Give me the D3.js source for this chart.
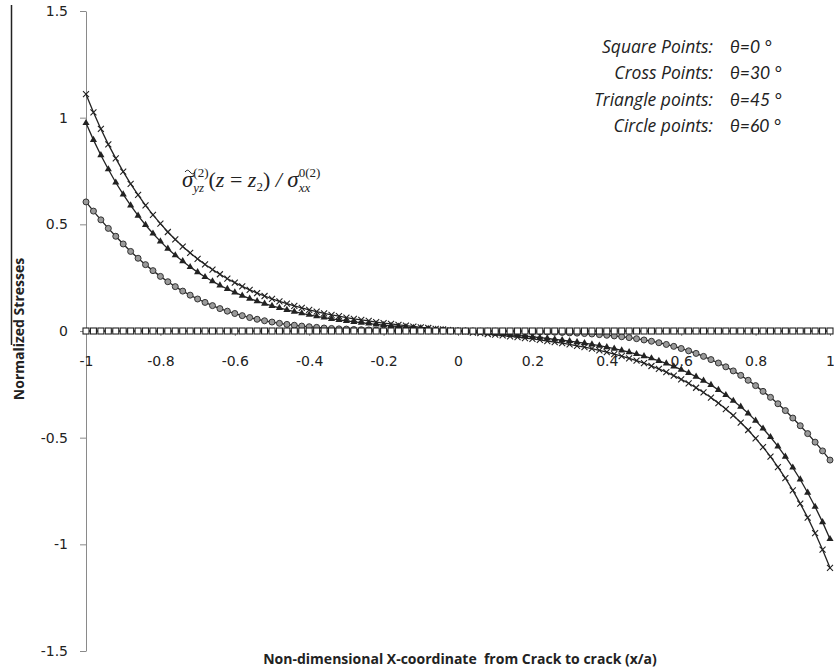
<!DOCTYPE html>
<html>
<head>
<meta charset="utf-8">
<script src="https://cdn.jsdelivr.net/npm/d3@7"></script>
<style>
  html, body { margin: 0; padding: 0; background: #fff; }
  svg { display: block; }
</style>
</head>
<body>
<svg id="chart" width="834" height="670"></svg>
<script>
'use strict';

// x/a sample positions, step 0.02
const xGrid = [
  -1, -0.98, -0.96, -0.94, -0.92, -0.9, -0.88, -0.86, -0.84, -0.82,
  -0.8, -0.78, -0.76, -0.74, -0.72, -0.7, -0.68, -0.66, -0.64, -0.62,
  -0.6, -0.58, -0.56, -0.54, -0.52, -0.5, -0.48, -0.46, -0.44, -0.42,
  -0.4, -0.38, -0.36, -0.34, -0.32, -0.3, -0.28, -0.26, -0.24, -0.22,
  -0.2, -0.18, -0.16, -0.14, -0.12, -0.1, -0.08, -0.06, -0.04, -0.02,
  0,
  0.02, 0.04, 0.06, 0.08, 0.1, 0.12, 0.14, 0.16, 0.18, 0.2,
  0.22, 0.24, 0.26, 0.28, 0.3, 0.32, 0.34, 0.36, 0.38, 0.4,
  0.42, 0.44, 0.46, 0.48, 0.5, 0.52, 0.54, 0.56, 0.58, 0.6,
  0.62, 0.64, 0.66, 0.68, 0.7, 0.72, 0.74, 0.76, 0.78, 0.8,
  0.82, 0.84, 0.86, 0.88, 0.9, 0.92, 0.94, 0.96, 0.98, 1
];

// theta = 0 (squares)
const squareVals = [
  0, 0, 0, 0, 0, 0, 0, 0, 0, 0,
  0, 0, 0, 0, 0, 0, 0, 0, 0, 0,
  0, 0, 0, 0, 0, 0, 0, 0, 0, 0,
  0, 0, 0, 0, 0, 0, 0, 0, 0, 0,
  0, 0, 0, 0, 0, 0, 0, 0, 0, 0,
  0,
  0, 0, 0, 0, 0, 0, 0, 0, 0, 0,
  0, 0, 0, 0, 0, 0, 0, 0, 0, 0,
  0, 0, 0, 0, 0, 0, 0, 0, 0, 0,
  0, 0, 0, 0, 0, 0, 0, 0, 0, 0,
  0, 0, 0, 0, 0, 0, 0, 0, 0, 0
];

// theta = 30 (crosses)
const crossVals = [
  1.110, 1.025, 0.947, 0.875, 0.809, 0.747, 0.690, 0.638, 0.589, 0.544,
  0.503, 0.464, 0.429, 0.396, 0.366, 0.338, 0.312, 0.288, 0.266, 0.245,
  0.227, 0.209, 0.193, 0.178, 0.164, 0.151, 0.139, 0.128, 0.118, 0.108,
  0.099, 0.091, 0.083, 0.076, 0.070, 0.063, 0.057, 0.052, 0.047, 0.042,
  0.037, 0.033, 0.029, 0.025, 0.021, 0.017, 0.014, 0.010, 0.007, 0.003,
  0,
  -0.003, -0.007, -0.010, -0.014, -0.017, -0.021, -0.025, -0.029, -0.033, -0.037,
  -0.042, -0.047, -0.052, -0.057, -0.063, -0.070, -0.076, -0.083, -0.091, -0.099,
  -0.108, -0.118, -0.128, -0.139, -0.151, -0.164, -0.178, -0.193, -0.209, -0.227,
  -0.245, -0.266, -0.288, -0.312, -0.338, -0.366, -0.396, -0.429, -0.464, -0.503,
  -0.544, -0.589, -0.638, -0.690, -0.747, -0.809, -0.875, -0.947, -1.025, -1.110
];

// theta = 45 (triangles)
const triangleVals = [
  0.975, 0.896, 0.824, 0.758, 0.696, 0.640, 0.589, 0.541, 0.497, 0.457,
  0.420, 0.386, 0.355, 0.327, 0.300, 0.276, 0.253, 0.233, 0.214, 0.197,
  0.181, 0.166, 0.152, 0.140, 0.128, 0.118, 0.108, 0.099, 0.091, 0.083,
  0.076, 0.069, 0.063, 0.057, 0.052, 0.047, 0.043, 0.039, 0.035, 0.031,
  0.028, 0.024, 0.021, 0.018, 0.015, 0.013, 0.010, 0.007, 0.005, 0.002,
  0,
  -0.002, -0.005, -0.007, -0.010, -0.013, -0.015, -0.018, -0.021, -0.024, -0.028,
  -0.031, -0.035, -0.039, -0.043, -0.047, -0.052, -0.057, -0.063, -0.069, -0.076,
  -0.083, -0.091, -0.099, -0.108, -0.118, -0.128, -0.140, -0.152, -0.166, -0.181,
  -0.197, -0.214, -0.233, -0.253, -0.276, -0.300, -0.327, -0.355, -0.386, -0.420,
  -0.457, -0.497, -0.541, -0.589, -0.640, -0.696, -0.758, -0.824, -0.896, -0.975
];

// theta = 60 (circles)
const circleVals = [
  0.605, 0.562, 0.521, 0.481, 0.444, 0.408, 0.373, 0.341, 0.311, 0.283,
  0.256, 0.231, 0.208, 0.187, 0.168, 0.150, 0.134, 0.119, 0.105, 0.093,
  0.082, 0.072, 0.063, 0.055, 0.048, 0.042, 0.036, 0.031, 0.027, 0.023,
  0.020, 0.017, 0.014, 0.012, 0.010, 0.009, 0.007, 0.006, 0.005, 0.004,
  0.004, 0.003, 0.002, 0.002, 0.002, 0.001, 0.001, 0.001, 0, 0,
  0,
  0, 0, -0.001, -0.001, -0.001, -0.002, -0.002, -0.002, -0.003, -0.004,
  -0.004, -0.005, -0.006, -0.007, -0.009, -0.010, -0.012, -0.014, -0.017, -0.020,
  -0.023, -0.027, -0.031, -0.036, -0.042, -0.048, -0.055, -0.063, -0.072, -0.082,
  -0.093, -0.105, -0.119, -0.134, -0.150, -0.168, -0.187, -0.208, -0.231, -0.256,
  -0.283, -0.311, -0.341, -0.373, -0.408, -0.444, -0.481, -0.521, -0.562, -0.605
];

const xTicks = [-1, -0.8, -0.6, -0.4, -0.2, 0, 0.2, 0.4, 0.6, 0.8, 1];
const yTicks = [1.5, 1, 0.5, 0, -0.5, -1, -1.5];

const legendLabels = ["Square Points:", "Cross Points:", "Triangle points:", "Circle points:"];
const legendAngles = ["θ=0 °", "θ=30 °", "θ=45 °", "θ=60 °"];

const xTitle = "Non-dimensional X-coordinate  from Crack to crack (x/a)";
const yTitle = "Normalized Stresses";

const svg = d3.select("#chart");
const ink = "#222";

const x = d3.scaleLinear().domain([-1, 1]).range([86, 830]);
const y = d3.scaleLinear().domain([-1.5, 1.5]).range([651, 11]);

// frame remnant on the far left
svg.append("line")
  .attr("x1", 11.5).attr("x2", 11.5)
  .attr("y1", 5).attr("y2", 345)
  .attr("stroke", ink)
  .attr("stroke-width", 1.5);

// axes
const yAxis = svg.append("g")
  .attr("transform", `translate(${x(-1)},0)`)
  .call(d3.axisLeft(y).tickValues(yTicks).tickSize(6).tickSizeOuter(0).tickPadding(12)
    .tickFormat(d => String(d)));

const xAxis = svg.append("g")
  .attr("transform", `translate(0,${y(0)})`)
  .call(d3.axisBottom(x).tickValues(xTicks).tickSize(5).tickSizeOuter(0).tickPadding(20)
    .tickFormat(d => String(d)));

for (const g of [xAxis, yAxis]) {
  g.select(".domain").attr("stroke", "#8a8a8a");
  g.selectAll(".tick line").attr("stroke", "#8a8a8a");
  g.selectAll(".tick text")
    .attr("fill", ink)
    .style("font-family", "'DejaVu Sans', sans-serif")
    .style("font-size", "14px");
}

// series
const line = d3.line()
  .x((d, i) => x(xGrid[i]))
  .y(d => y(d));

function drawLine(vals) {
  svg.append("path")
    .datum(vals)
    .attr("fill", "none")
    .attr("stroke", ink)
    .attr("stroke-width", 1.3)
    .attr("d", line);
}

// circles
drawLine(circleVals);
svg.append("g").selectAll("circle")
  .data(circleVals)
  .join("circle")
  .attr("cx", (d, i) => x(xGrid[i]))
  .attr("cy", d => y(d))
  .attr("r", 3)
  .attr("fill", "#9a9a9a")
  .attr("stroke", "#333")
  .attr("stroke-width", 1);

// triangles
drawLine(triangleVals);
const tri = d3.symbol().type(d3.symbolTriangle).size(22);
svg.append("g").selectAll("path")
  .data(triangleVals)
  .join("path")
  .attr("transform", (d, i) => `translate(${x(xGrid[i])},${y(d)})`)
  .attr("d", tri)
  .attr("fill", ink);

// crosses
drawLine(crossVals);
svg.append("g").selectAll("path")
  .data(crossVals)
  .join("path")
  .attr("transform", (d, i) => `translate(${x(xGrid[i])},${y(d)})`)
  .attr("d", "M-3,-3L3,3M-3,3L3,-3")
  .attr("stroke", ink)
  .attr("stroke-width", 1.1);

// squares
drawLine(squareVals);
svg.append("g").selectAll("rect")
  .data(squareVals)
  .join("rect")
  .attr("x", (d, i) => x(xGrid[i]) - 3)
  .attr("y", d => y(d) - 3)
  .attr("width", 6)
  .attr("height", 6)
  .attr("fill", "#fff")
  .attr("stroke", ink)
  .attr("stroke-width", 1.1);

// axis titles
svg.append("text")
  .attr("x", 460).attr("y", 664)
  .attr("text-anchor", "middle")
  .style("font-family", "'Open Sans', sans-serif")
  .style("font-weight", "bold")
  .style("font-size", "14px")
  .attr("fill", ink)
  .attr("xml:space", "preserve")
  .text(xTitle);

svg.append("text")
  .attr("transform", "translate(24,329) rotate(-90)")
  .attr("text-anchor", "middle")
  .style("font-family", "'Open Sans', sans-serif")
  .style("font-weight", "bold")
  .style("font-size", "14px")
  .attr("fill", ink)
  .text(yTitle);

// legend notes, top right
const legend = svg.append("g")
  .style("font-style", "italic")
  .attr("fill", ink);

legend.selectAll("text.lab")
  .data(legendLabels)
  .join("text")
  .attr("class", "lab")
  .attr("x", 713)
  .attr("y", (d, i) => 53 + i * 26.3)
  .attr("text-anchor", "end")
  .style("font-family", "'Open Sans', sans-serif")
  .style("font-size", "17.5px")
  .text(d => d);

legend.selectAll("text.ang")
  .data(legendAngles)
  .join("text")
  .attr("class", "ang")
  .attr("x", 730)
  .attr("y", (d, i) => 53 + i * 26.3)
  .style("font-family", "Lato, sans-serif")
  .style("font-size", "17.5px")
  .text(d => d);

// formula label: sigma~_yz^(2)(z = z_2) / sigma_xx^0(2)
const formula = svg.append("g")
  .style("font-family", "'Liberation Serif', serif")
  .attr("fill", ink);

let cx = 182;
const base = 187;

function piece(txt, size, italic, dy) {
  const t = formula.append("text")
    .attr("x", cx).attr("y", base + (dy || 0))
    .attr("xml:space", "preserve")
    .style("font-size", size + "px")
    .style("font-style", italic ? "italic" : "normal")
    .text(txt);
  return t.node().getComputedTextLength();
}

function stack(sup, sub) {
  const a = piece(sup, 13, false, -10);
  const b = piece(sub, 13, true, 5);
  cx += Math.max(a, b);
}

// tilde accent over the first sigma, drawn as a stroke
formula.append("path")
  .attr("d", `M${cx + 3},${base - 15} q2.5,-3.5 5,0 t5,0`)
  .attr("fill", "none")
  .attr("stroke", ink)
  .attr("stroke-width", 1);

cx += piece("σ", 23, true);
stack("(2)", "yz");
cx += piece("(", 22, false);
cx += piece("z", 22, true);
cx += piece(" = ", 22, false);
cx += piece("z", 22, true);
cx += piece("2", 13, false, 4);
cx += piece(")", 22, false);
cx += piece(" / ", 22, true);
cx += piece("σ", 23, true);
stack("0(2)", "xx");
</script>
</body>
</html>
